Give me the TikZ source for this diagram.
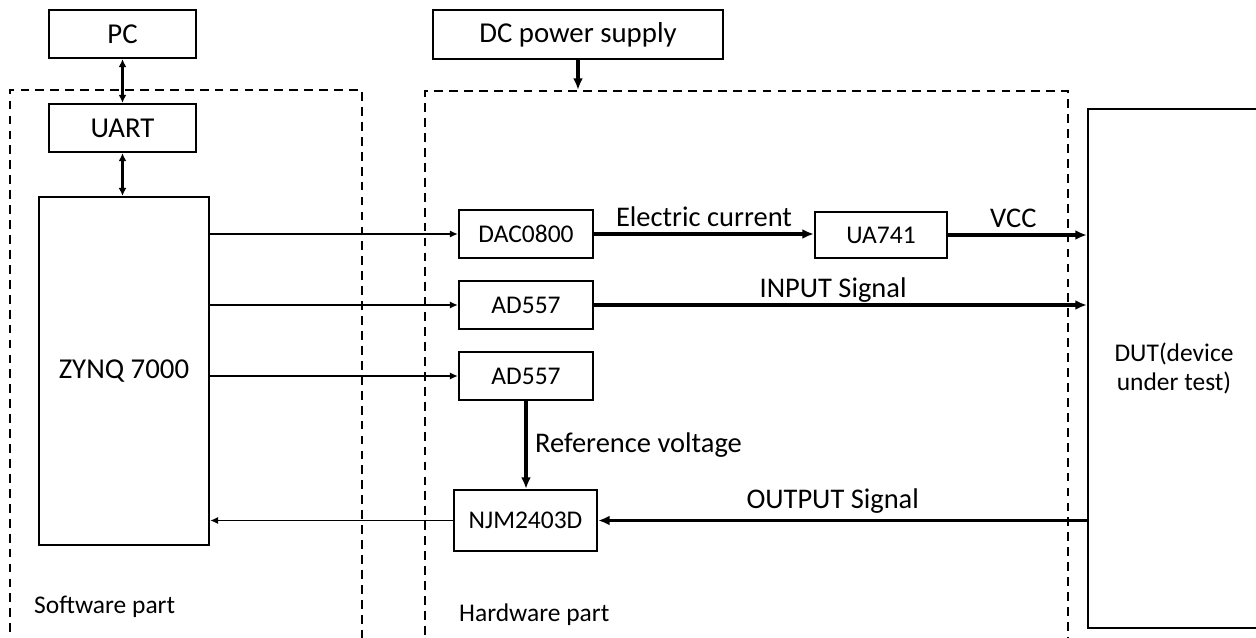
\documentclass[tikz,border=0pt]{standalone}
\usepackage{fontspec}
\setmainfont{Carlito}
\usetikzlibrary{arrows.meta,positioning}
\tikzset{box/.style={draw,line width=1.3pt,inner sep=0pt,align=center,font=\fontsize{14.5}{16.5}\selectfont},
bigbox/.style={box,font=\fontsize{16.4}{19}\selectfont},
grp/.style={draw,line width=1.3pt,dash pattern=on 5pt off 3.5pt},
lbl/.style={font=\fontsize{16.2}{19}\selectfont},
arr/.style={-{Latex[length=6.5pt,width=5.5pt]},line width=1.8pt},
link/.style={-{Latex[length=4.5pt,width=4pt]},line width=0.8pt},
bi/.style={{Latex[length=4.5pt,width=4.5pt]}-{Latex[length=4.5pt,width=4.5pt]},line width=1.2pt}}

\begin{document}
\begin{tikzpicture}[x=0.02cm,y=-0.02cm]
\useasboundingbox (0,0) rectangle (1256,638);
\clip (0,0) rectangle (1256,638);
\node[grp,minimum width=7.04cm,minimum height=11.4cm] (sw) at (186,375) {};
\node[grp,minimum width=12.86cm,minimum height=11.38cm] (hw) at (746.5,375.5) {};
\node[bigbox,minimum width=2.94cm,minimum height=0.96cm] (pc) at (122.5,34) {PC};
\node[bigbox,minimum width=2.94cm,minimum height=0.96cm] (uart) at (122.5,128) {UART};
\node[bigbox,minimum width=3.4cm,minimum height=6.96cm] (zynq) at (124,371) {ZYNQ 7000};
\node[bigbox,minimum width=5.8cm,minimum height=0.98cm] (dc) at (578,34.5) {DC power supply};
\node[box,minimum width=2.68cm,minimum height=0.96cm] (dac) at (526,234) {DAC0800};
\node[box,minimum width=2.68cm,minimum height=0.96cm] (ada) at (526,305) {AD557};
\node[box,minimum width=2.68cm,minimum height=0.96cm] (adb) at (526,376) {AD557};
\node[box,minimum width=2.86cm,minimum height=1.22cm] (njm) at (525.5,520.5) {NJM2403D};
\node[box,minimum width=2.64cm,minimum height=0.92cm] (ua) at (881,235) {UA741};
\node[box,minimum width=3.44cm,minimum height=10.38cm] (dut) at (1174,368.5) {DUT(device\\under test)};
\node[anchor=west,font=\fontsize{14.5}{17}\selectfont] (swname) at (28,607) {Software part};
\node[anchor=west,font=\fontsize{14.5}{17}\selectfont] (hwname) at (453,615) {Hardware part};
\draw[bi] (pc)--(uart); \draw[bi] (uart)--(uart |- zynq.north);
\draw[arr] (dc)--(dc |- hw.north);
\draw[link] (zynq.east |- dac)--(dac); \draw[link] (zynq.east |- ada)--(ada); \draw[link] (zynq.east |- adb)--(adb);
\draw[link] (njm)--(njm -| zynq.east);
\draw[arr] (dac.east)--node[lbl,above] {Electric current} (dac.east -| ua.west);
\draw[arr] (ua)--node[lbl,above,pos=0.47] {VCC} (ua -| dut.west);
\draw[arr] (ada)--node[lbl,above,pos=0.485,yshift=-2.5pt] {INPUT Signal} (ada -| dut.west);
\draw[arr] (adb.south)--node[lbl,right,xshift=1pt] {Reference voltage} (adb.south |- njm.north);
\draw[arr] (dut.west |- njm)--node[lbl,above,pos=0.52] {OUTPUT Signal} (njm);
\end{tikzpicture}
\end{document}
